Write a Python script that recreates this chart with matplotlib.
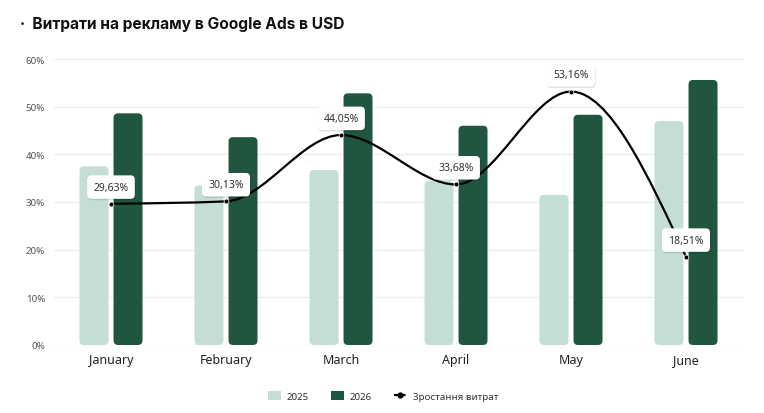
import numpy as np
import matplotlib
matplotlib.use("Agg")
import matplotlib.pyplot as plt
from matplotlib.patches import FancyBboxPatch
from matplotlib.path import Path
from matplotlib.patches import PathPatch
from matplotlib.lines import Line2D
from matplotlib.patches import Patch
import matplotlib.patheffects as pe

plt.rcParams['font.family'] = ['Noto Sans', 'DejaVu Sans']

# дані
months = ['January', 'February', 'March', 'April', 'May', 'June']
spend_2025 = [37.5, 33.5, 36.7, 34.4, 31.5, 47.0]
spend_2026 = [48.6, 43.6, 52.8, 46.0, 48.3, 55.6]
growth = [29.63, 30.13, 44.05, 33.68, 53.16, 18.51]
growth_labels = ['29,63%', '30,13%', '44,05%', '33,68%', '53,16%', '18,51%']
yticks = [0, 10, 20, 30, 40, 50, 60]

c_light = '#C5DED5'
c_dark = '#20553F'

fig = plt.figure(figsize=(7.64, 4.14), dpi=100)
ax = fig.add_axes([53.5 / 764, 68 / 414, 690 / 764, 286 / 414])
ax.set_xlim(-0.5, 5.5)
ax.set_ylim(0, 60)

for s in ax.spines.values():
    s.set_visible(False)
ax.set_yticks(yticks)
ax.set_yticklabels([f'{v}%' for v in yticks], fontsize=7, color='#555555')
ax.set_xticks(range(len(months)))
ax.set_xticklabels(months, fontsize=9, color='#222222')
ax.tick_params(length=0)
ax.tick_params(axis='y', pad=6)
ax.tick_params(axis='x', pad=6)
ax.grid(axis='y', color='#EFEFEF', lw=1)
ax.set_axisbelow(True)

# округлені стовпці
bw = 0.252
off = 0.148
rx = 0.04
aspect = (4.5 / 4.77) / rx
x = np.arange(len(months))
for xi, v1, v2 in zip(x, spend_2025, spend_2026):
    for cx, v, c in [(xi - off, v1, c_light), (xi + off, v2, c_dark)]:
        p = FancyBboxPatch((cx - bw / 2, 0), bw, v,
                           boxstyle=f'round,pad=0,rounding_size={rx}',
                           mutation_aspect=aspect, fc=c, ec='none', zorder=2)
        ax.add_patch(p)

# згладжена лінія (monotone X)
y = np.array(growth, dtype=float)
n = len(y)
s = np.diff(y)
t = np.zeros(n)
for i in range(1, n - 1):
    s0, s1 = s[i - 1], s[i]
    p = (s0 + s1) / 2
    t[i] = (np.sign(s0) + np.sign(s1)) * min(abs(s0), abs(s1), 0.5 * abs(p))
t[0] = (3 * s[0] - t[1]) / 2
t[-1] = (3 * s[-1] - t[-2]) / 2
verts = [(x[0], y[0])]
codes = [Path.MOVETO]
for i in range(n - 1):
    verts += [(x[i] + 1 / 3, y[i] + t[i] / 3),
              (x[i + 1] - 1 / 3, y[i + 1] - t[i + 1] / 3),
              (x[i + 1], y[i + 1])]
    codes += [Path.CURVE4] * 3
ax.add_patch(PathPatch(Path(verts, codes), fc='none', ec='black', lw=1.6, zorder=4))
ax.plot(x, y, 'o', color='black', ms=3.5, mec='white', mew=0.5, zorder=5)

for xi, yi, lab in zip(x, y, growth_labels):
    tx = ax.annotate(lab, (xi, yi), xytext=(0, 12), textcoords='offset points',
                     ha='center', va='center', fontsize=7.5, color='#333333', zorder=6,
                     bbox=dict(boxstyle='round,pad=0.6,rounding_size=0.4', fc='white', ec='none'))
    tx.get_bbox_patch().set_path_effects([
        pe.SimplePatchShadow(offset=(0.5, -1), shadow_rgbFace='#000000', alpha=0.12),
        pe.Normal()])

# заголовок
fig.text(20 / 764, 1 - 24 / 414, '·  Витрати на рекламу в Google Ads в USD',
         fontsize=11.2, fontweight='bold', color='#111111', va='center',
         family=['Inter', 'DejaVu Sans'])

# легенда
handles = [Patch(fc=c_light, ec='none', label='2025'),
           Patch(fc=c_dark, ec='none', label='2026'),
           Line2D([0], [0], color='black', ls=(0, (2, 1.2)), lw=1.6, marker='o', ms=3.5,
                  label='Зростання витрат')]
fig.legend(handles=handles, loc='center', bbox_to_anchor=(383 / 764, 1 - 397 / 414),
           ncol=3, frameon=False, fontsize=7, handlelength=1.4, handleheight=1.0,
           columnspacing=2.2, handletextpad=0.6, labelcolor='#333333')

fig.savefig('out.png', dpi=100, facecolor='white')
